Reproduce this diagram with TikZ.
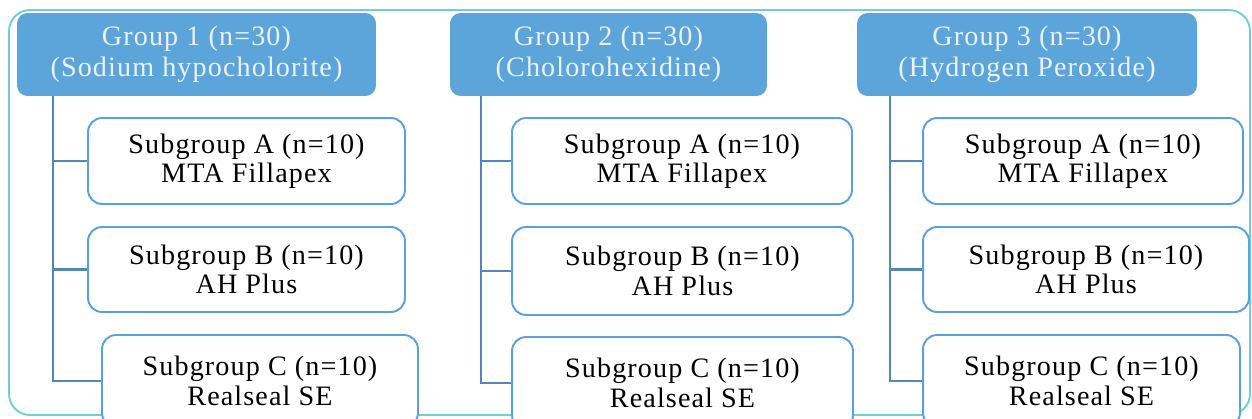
\documentclass[tikz,border=0pt]{standalone}
\usepackage{fontspec}
\setmainfont{Liberation Serif}[LetterSpace=4]
\usetikzlibrary{positioning,calc}

\definecolor{headblue}{HTML}{5CA5DA}
\definecolor{boxblue}{HTML}{5FA0DA}
\definecolor{linkblue}{HTML}{5487B8}
\definecolor{frameteal}{HTML}{6FD0CF}
\definecolor{headtext}{HTML}{EDF1F6}

\tikzset{
    grouphead/.style={rectangle, rounded corners=6pt, fill=headblue, text=headtext,
        align=center, font=\fontsize{16}{17.5}\selectfont, minimum height=1.66cm, inner sep=0pt},
    subbox/.style={rectangle, rounded corners=8pt, draw=boxblue, line width=1.1pt, fill=white,
        align=center, font=\fontsize{16}{16.8}\selectfont, minimum height=1.72cm, inner sep=0pt},
    link/.style={draw=linkblue, line width=1.5pt}
}

\begin{document}
\begin{tikzpicture}[x=0.02cm, y=-0.02cm]
    \useasboundingbox (0,0) rectangle (1252,419);
    \clip (0,0) rectangle (1252,419);
    % Outer frame
    \draw[frameteal, line width=1.1pt, rounded corners=12pt] (9,10) rectangle (1250,415);

    \begin{scope} % Group headers
        \node[grouphead, minimum width=7.18cm] (g1) at (196.5,54.5) {Group 1 (n=30)\\(Sodium hypocholorite)};
        \node[grouphead, minimum width=6.34cm] (g2) at (608.5,54.5) {Group 2 (n=30)\\(Cholorohexidine)};
        \node[grouphead, minimum width=6.80cm] (g3) at (1027,54.5) {Group 3 (n=30)\\(Hydrogen Peroxide)};
    \end{scope}

    \begin{scope} % Subgroups of group 1
        \node[subbox, minimum width=6.34cm] (a1) at (246.5,161) {Subgroup A (n=10)\\MTA Fillapex};
        \node[subbox, minimum width=6.34cm, minimum height=1.70cm] (b1) at (246.5,269.5) {Subgroup B (n=10)\\AH Plus};
        \node[subbox, minimum width=6.32cm, minimum height=1.84cm] (c1) at (260,381) {Subgroup C (n=10)\\Realseal SE};
    \end{scope}

    \begin{scope} % Subgroups of group 2
        \node[subbox, minimum width=6.80cm] (a2) at (682,161) {Subgroup A (n=10)\\MTA Fillapex};
        \node[subbox, minimum width=6.82cm, minimum height=1.76cm] (b2) at (682.5,271) {Subgroup B (n=10)\\AH Plus};
        \node[subbox, minimum width=6.82cm, minimum height=1.84cm] (c2) at (682.5,383) {Subgroup C (n=10)\\Realseal SE};
    \end{scope}

    \begin{scope} % Subgroups of group 3
        \node[subbox, minimum width=6.40cm] (a3) at (1083,161) {Subgroup A (n=10)\\MTA Fillapex};
        \node[subbox, minimum width=6.52cm, minimum height=1.70cm] (b3) at (1086,269.5) {Subgroup B (n=10)\\AH Plus};
        \node[subbox, minimum width=6.34cm, minimum height=1.84cm] (c3) at (1081.5,381) {Subgroup C (n=10)\\Realseal SE};
    \end{scope}

% Tree links from each header down to its subgroups
\coordinate (t1) at (53,96);
\coordinate (t2) at (481,96);
\coordinate (t3) at (890,96);
\foreach \g in {1,2,3} {
    \draw[link] (t\g) |- (a\g.west);
    \draw[link] (t\g) |- (b\g.west);
    \draw[link] (t\g) |- (c\g.west);
}

\end{tikzpicture}
\end{document}
